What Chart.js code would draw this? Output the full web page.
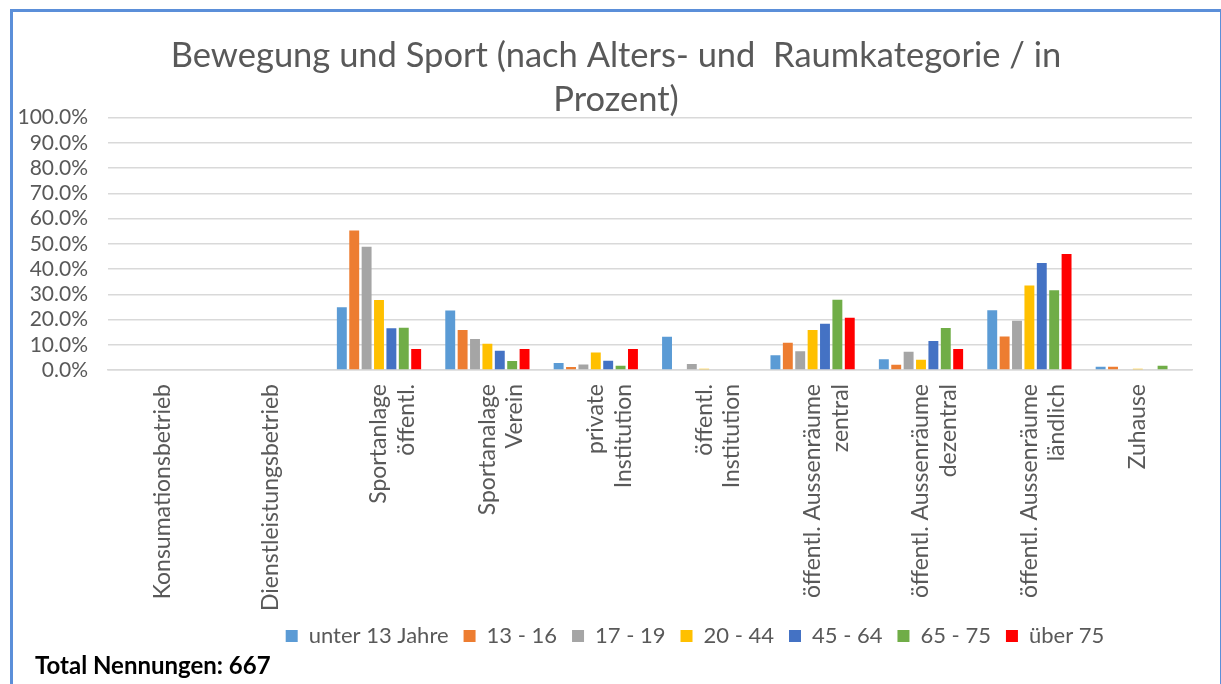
<!DOCTYPE html>
<html>
<head>
<meta charset="utf-8">
<script src="https://cdn.jsdelivr.net/npm/chart.js@4/dist/chart.umd.min.js"></script>
<style>
  html, body { margin: 0; padding: 0; background: #fff; }
  #wrap { position: absolute; left: 0; top: 0; width: 1221px; height: 684px; }
  #frame { position: absolute; left: 10px; top: 9px; width: 1207px; height: 700px;
           border: 3px solid #5b8fd9; pointer-events: none; }
  #total { position: absolute; left: 35px; top: 651px; font: bold 24px Lato, sans-serif; color: #000; line-height: 28px; }
</style>
</head>
<body>
<div id="wrap"><canvas id="myChart" width="1221" height="684"></canvas></div>
<div id="frame"></div>
<div id="total">Total Nennungen: 667</div>
<script>
// Kategorien (Raumkategorie)
const categories = [
  "Konsumationsbetrieb",
  "Dienstleistungsbetrieb",
  ["Sportanlage", "öffentl."],
  ["Sportanalage", "Verein"],
  ["private", "Institution"],
  ["öffentl.", "Institution"],
  ["öffentl. Aussenräume", "zentral"],
  ["öffentl. Aussenräume", "dezentral"],
  ["öffentl. Aussenräume", "ländlich"],
  "Zuhause"
];

// Altersgruppen
const seriesNames = ["unter 13 Jahre", "13 - 16", "17 - 19", "20 - 44", "45 - 64", "65 - 75", "über 75"];
const seriesColors = ["#5b9bd5", "#ed7d31", "#a5a5a5", "#ffc000", "#4472c4", "#70ad47", "#ff0000"];

// Werte in Prozent
const unter13 = [0, 0, 24.9, 23.6, 2.8, 13.2, 5.8, 4.3, 23.7, 1.3];
const age13_16 = [0, 0, 55.3, 15.9, 1.2, 0, 10.8, 2.1, 13.3, 1.3];
const age17_19 = [0, 0, 48.9, 12.3, 2.2, 2.4, 7.4, 7.2, 19.5, 0];
const age20_44 = [0, 0, 27.7, 10.4, 6.9, 0.5, 15.9, 4.1, 33.5, 0.5];
const age45_64 = [0, 0, 16.5, 7.6, 3.7, 0, 18.3, 11.5, 42.4, 0];
const age65_75 = [0, 0, 16.7, 3.6, 1.7, 0, 27.8, 16.6, 31.6, 1.7];
const ueber75 = [0, 0, 8.3, 8.3, 8.3, 0, 20.7, 8.3, 46.0, 0];

const seriesValues = [unter13, age13_16, age17_19, age20_44, age45_64, age65_75, ueber75];

// Y-Achse
const yTicks = [0, 10, 20, 30, 40, 50, 60, 70, 80, 90, 100];

const textColor = "#595959";
const gridColor = "#d9d9d9";
Chart.defaults.font.family = "Lato, 'Open Sans', sans-serif";

// Titel und Legende etwas nach rechts schieben (wie im Original)
const boxShift = {
  id: "boxShift",
  afterLayout(chart) {
    chart.legend.left += 94;
    chart.legend.right += 94;
    chart.titleBlock.left += 15;
    chart.titleBlock.right += 15;
  }
};

const ctx = document.getElementById("myChart").getContext("2d");
new Chart(ctx, {
  type: "bar",
  data: {
    labels: categories,
    datasets: seriesNames.map((name, i) => ({
      label: name,
      data: seriesValues[i],
      backgroundColor: seriesColors[i],
      borderWidth: 0,
      categoryPercentage: 0.8,
      barPercentage: 0.8
    }))
  },
  options: {
    responsive: false,
    animation: false,
    layout: { padding: { left: 10, right: 29, top: 12, bottom: 27 } },
    plugins: {
      title: {
        display: true,
        text: ["Bewegung und Sport (nach Alters- und  Raumkategorie / in", "Prozent)"],
        color: textColor,
        font: { size: 34.5, weight: "normal", lineHeight: 1.3 },
        padding: { top: 21, bottom: -5 }
      },
      legend: {
        position: "bottom",
        labels: {
          color: textColor,
          font: { size: 22 },
          boxWidth: 12,
          boxHeight: 12,
          padding: 15
        }
      },
      tooltip: { enabled: false }
    },
    scales: {
      x: {
        grid: { display: false, drawTicks: false },
        border: { color: gridColor, width: 1.5 },
        ticks: {
          color: textColor,
          font: { size: 23 },
          minRotation: 90,
          maxRotation: 90,
          autoSkip: false,
          padding: 14
        },
        afterFit(scale) { scale.height = 240; }
      },
      y: {
        min: 0,
        max: 100,
        afterBuildTicks(scale) { scale.ticks = yTicks.map((v) => ({ value: v })); },
        grid: { color: gridColor, lineWidth: 1.5, drawTicks: false },
        border: { display: false },
        ticks: {
          color: textColor,
          font: { size: 21 },
          padding: 20,
          autoSkip: false,
          callback: (v) => v.toFixed(1) + "%"
        },
        afterFit(scale) { scale.width = 98; }
      }
    }
  },
  plugins: [boxShift]
});
</script>
</body>
</html>
